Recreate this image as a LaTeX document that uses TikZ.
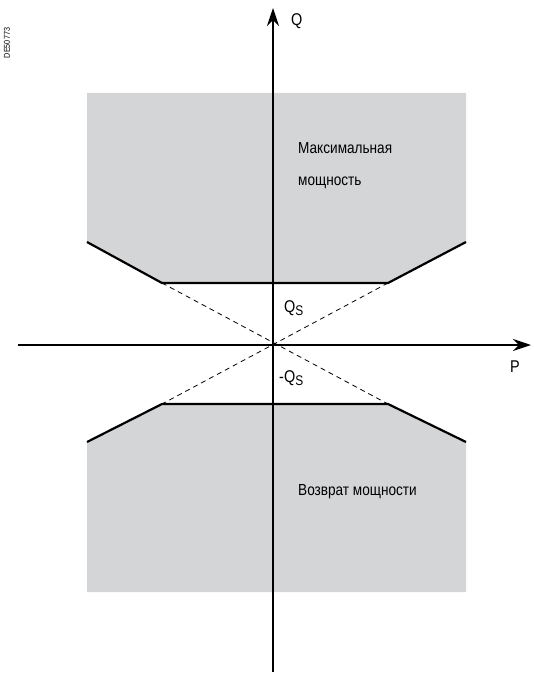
\documentclass[tikz,border=0pt]{standalone}
\usepackage{fontspec}
\setmainfont{Liberation Sans}[FakeStretch=0.85]
\usetikzlibrary{arrows.meta}
\definecolor{regiongray}{RGB}{212,213,215}
\newcommand{\subS}{\raisebox{-0.35ex}{\fontsize{14}{16}\selectfont S}}
\tikzset{
  axis/.style={line width=1.8pt, -{Stealth[length=18pt,width=12pt]}},
  limit/.style={line width=2.2pt, line join=miter},
  guide/.style={line width=0.8pt, dash pattern=on 5pt off 4pt},
  lbl/.style={font=\fontsize{17}{20}\selectfont, inner sep=0pt, anchor=west}
}
\begin{document}
\begin{tikzpicture}[x=1pt,y=-1pt]
  \useasboundingbox (0,0) rectangle (533,674);

  % Grey regions
  \fill[regiongray] (87,93) -- (466,93) -- (466,242) -- (388,283) -- (162,283) -- (87,242) -- cycle;
  \fill[regiongray] (87,592) -- (466,592) -- (466,442) -- (388,404) -- (162,404) -- (87,442) -- cycle;

  % Limit lines
  \draw[limit] (87,242) -- (162,283) -- (388,283) -- (466,242);
  \draw[limit] (87,442) -- (162,404) -- (388,404) -- (466,442);

  % Dashed guides through the origin
  \draw[guide] (162,283) -- (388,404);
  \draw[guide] (388,283) -- (162,404);

  % Axes
  \draw[axis] (18,345) -- (531,345);
  \draw[axis] (273,672) -- (273,8);
  \node[lbl] (q) at (291,21) {Q};
  \node[lbl] (p) at (510,367) {P};

  % Axis marks
  \node[lbl] (qs) at (284,308) {Q\subS};
  \node[lbl] (mqs) at (279,378) {-Q\subS};

  % Region labels
  \node[lbl, align=left, font=\fontsize{16}{32}\selectfont] (max) at (298,166) {Максимальная\\мощность};
  \node[lbl, font=\fontsize{16}{20}\selectfont] (back) at (298,492) {Возврат мощности};

  % Reference code
  \node[rotate=90, inner sep=0pt, font=\fontsize{8.5}{10}\selectfont] (ref) at (7,43) {DE50773};
\end{tikzpicture}
\end{document}
